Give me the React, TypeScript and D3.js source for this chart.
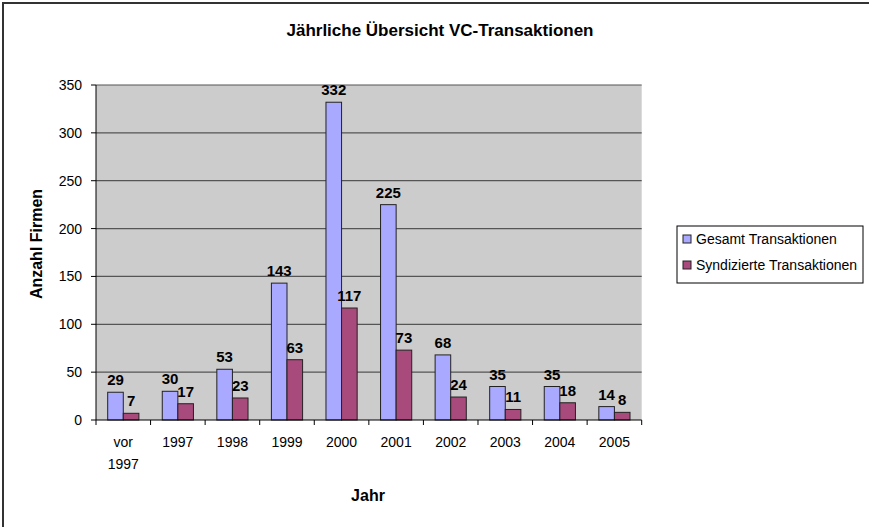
import React from "react";
import * as d3 from "d3";

// values
const years = ["vor 1997", "1997", "1998", "1999", "2000", "2001", "2002", "2003", "2004", "2005"];
const gesamt = [29, 30, 53, 143, 332, 225, 68, 35, 35, 14];
const syndiziert = [7, 17, 23, 63, 117, 73, 24, 11, 18, 8];
const seriesNames = ["Gesamt Transaktionen", "Syndizierte Transaktionen"];
const seriesColors = ["#a9a9ff", "#a84a7b"];
const yTicks = [0, 50, 100, 150, 200, 250, 300, 350];

const W = 869;
const H = 527;
const font = "'Liberation Sans', Arial, sans-serif";

export default function App() {
  const left = 96, right = 641.7, top = 85, bottom = 420;

  const x = d3.scaleBand<string>().domain(years).range([left, right]).padding(0);
  // Excel style: gap width 150% of a bar
  const inner = d3.scaleBand<string>().domain(seriesNames)
    .range([0, x.bandwidth()]).paddingInner(0).paddingOuter(0.75);
  const y = d3.scaleLinear().domain([0, 350]).range([bottom, top]);

  const series = [gesamt, syndiziert];

  return (
    <svg width={W} height={H} style={{ position: "absolute", left: 0, top: 0 }} fontFamily={font}>
      <rect x={0} y={0} width={W} height={H} fill="#fff" />
      {/* chart frame, only top and left edges in view */}
      <rect x={3} y={3} width={W + 10} height={H + 10} fill="none" stroke="#333" strokeWidth={2} />

      <text x={440} y={36} textAnchor="middle" fontSize={17} fontWeight="bold">
        Jährliche Übersicht VC-Transaktionen
      </text>

      {/* plot area */}
      <rect x={left} y={top} width={right - left} height={bottom - top} fill="#cccccc" />
      {yTicks.map(t => (
        <g key={t}>
          {t > 0 && <line x1={left} x2={right} y1={y(t)} y2={y(t)} stroke="#555" strokeWidth={1.2} />}
          <line x1={left - 5} x2={left} y1={y(t)} y2={y(t)} stroke="#000" />
          <text x={82} y={y(t)} dy="0.36em" textAnchor="end" fontSize={14}>{t}</text>
        </g>
      ))}

      {/* bars */}
      {series.map((vals, si) =>
        vals.map((v, i) => {
          const bx = (x(years[i]) ?? 0) + (inner(seriesNames[si]) ?? 0);
          return (
            <rect key={si + "-" + i} x={bx} y={y(v)} width={inner.bandwidth()} height={y(0) - y(v)}
              fill={seriesColors[si]} stroke="#222" strokeWidth={1} />
          );
        })
      )}
      {series.map((vals, si) =>
        vals.map((v, i) => {
          const cx = (x(years[i]) ?? 0) + (inner(seriesNames[si]) ?? 0) + inner.bandwidth() / 2;
          return (
            <text key={"l" + si + "-" + i} x={cx} y={y(v) - 7} textAnchor="middle" fontSize={15} fontWeight="bold">
              {v}
            </text>
          );
        })
      )}

      {/* axes */}
      <line x1={left} x2={left} y1={top} y2={bottom} stroke="#000" />
      <line x1={left} x2={right} y1={bottom} y2={bottom} stroke="#000" />
      {years.map((c, i) => (
        <line key={"t" + i} x1={x(c)} x2={x(c)} y1={bottom} y2={bottom + 5} stroke="#000" />
      ))}
      <line x1={right} x2={right} y1={bottom} y2={bottom + 5} stroke="#000" />
      {years.map(c => (
        <text key={"x" + c} x={(x(c) ?? 0) + x.bandwidth() / 2} y={447} textAnchor="middle" fontSize={14}>
          {c.split(" ").map((part, j) => (
            <tspan key={j} x={(x(c) ?? 0) + x.bandwidth() / 2} dy={j === 0 ? 0 : 22}>{part}</tspan>
          ))}
        </text>
      ))}

      <text x={368} y={501} textAnchor="middle" fontSize={16} fontWeight="bold">Jahr</text>
      <text transform="translate(42,244) rotate(-90)" textAnchor="middle" fontSize={16} fontWeight="bold">
        Anzahl Firmen
      </text>

      {/* legend */}
      <rect x={677} y={226} width={186} height={57} fill="#fff" stroke="#000" />
      {seriesNames.map((s, i) => (
        <g key={s}>
          <rect x={683} y={235 + i * 26} width={8} height={8} fill={seriesColors[i]} stroke="#222" />
          <text x={696} y={239 + i * 26} dy="0.36em" fontSize={14}>{s}</text>
        </g>
      ))}
    </svg>
  );
}
